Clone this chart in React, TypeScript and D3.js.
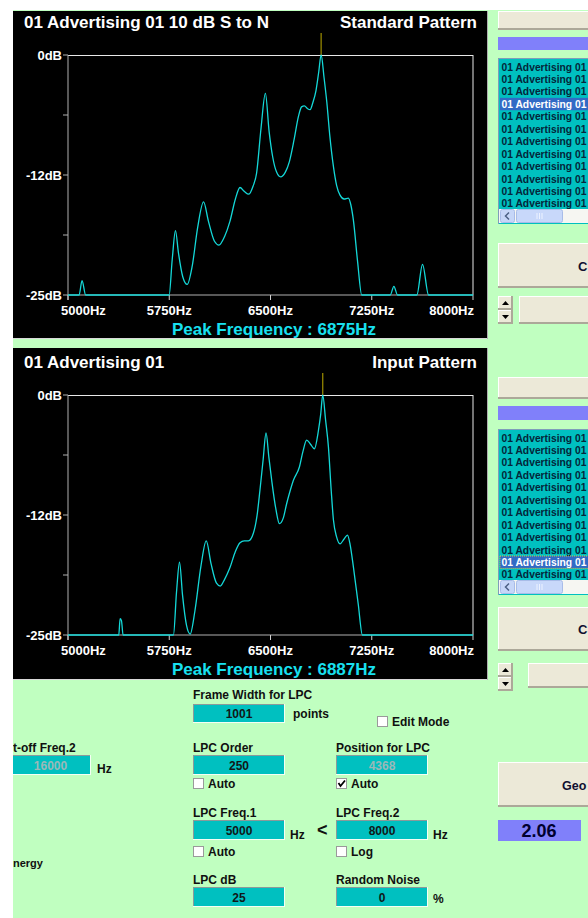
import React from 'react';
import * as d3 from 'd3';

// Frequency axis (Hz) and level axis (dB)
const xTicks = [5000, 5750, 6500, 7250, 8000];
const xTickLabels = ['5000Hz', '5750Hz', '6500Hz', '7250Hz', '8000Hz'];
const yTicks = [0, -6.25, -12.5, -18.75, -25];
const yTickLabels = ['0dB', '', '-12dB', '', '-25dB'];

// LPC spectrum of the standard pattern (10 dB S/N)
const stdFreq = [5000, 5082, 5104, 5131, 5749, 5772, 5796, 5818, 5850, 5883, 5920, 5960, 6004, 6040, 6085, 6118, 6160, 6200, 6240, 6274, 6305, 6340, 6370, 6397, 6430, 6462, 6490, 6516, 6545, 6575, 6610, 6640, 6675, 6707, 6730, 6751, 6775, 6793, 6815, 6837, 6857, 6875, 6897, 6917, 6940, 6966, 6990, 7015, 7045, 7077, 7095, 7114, 7145, 7176, 7387, 7414, 7441, 7584, 7626, 7671, 8000];
const stdDb = [-25, -25, -23.5, -25, -25, -21.3, -18.3, -20.6, -23.1, -23.9, -22.0, -18.0, -15.3, -17.3, -19.4, -19.8, -18.9, -17.3, -15.0, -13.8, -14.2, -14.5, -13.7, -12.3, -7.6, -4.0, -8.0, -10.6, -12.2, -12.7, -12.2, -11.1, -8.8, -6.4, -5.4, -5.3, -5.6, -5.7, -4.9, -3.7, -1.8, 0, -2.4, -4.9, -8.5, -11.6, -13.6, -14.6, -15.0, -14.9, -15.6, -17.2, -21.5, -25, -25, -24.1, -25, -25, -21.8, -25, -25];

// LPC spectrum of the input pattern
const inFreq = [5000, 5376, 5386, 5396, 5408, 5781, 5804, 5826, 5848, 5878, 5905, 5940, 5985, 6024, 6060, 6100, 6128, 6160, 6199, 6240, 6274, 6305, 6336, 6373, 6400, 6422, 6445, 6467, 6488, 6509, 6540, 6566, 6595, 6620, 6645, 6669, 6714, 6740, 6768, 6795, 6825, 6855, 6872, 6887, 6908, 6929, 6950, 6966, 6990, 7015, 7045, 7070, 7090, 7114, 7150, 7181, 8000];
const inDb = [-25, -25, -23.3, -23.5, -25, -25, -20.5, -17.4, -20.8, -24.0, -24.9, -22.5, -17.8, -15.2, -17.6, -19.6, -19.9, -19.2, -18.0, -16.3, -15.4, -15.2, -15.2, -14.4, -12.6, -9.9, -6.8, -3.95, -6.5, -8.9, -11.9, -13.4, -12.8, -11.3, -10.0, -8.9, -7.5, -5.9, -4.7, -5.1, -5.6, -3.7, -2.0, 0, -2.6, -5.4, -10.0, -13.0, -14.8, -15.5, -15.0, -14.6, -15.6, -17.9, -21.8, -25, -25];

const stdPeak = 6875;
const inPeak = 6887;

const listRows = [
  '01 Advertising 01', '01 Advertising 01', '01 Advertising 01', '01 Advertising 01',
  '01 Advertising 01', '01 Advertising 01', '01 Advertising 01', '01 Advertising 01',
  '01 Advertising 01', '01 Advertising 01', '01 Advertising 01', '01 Advertising 01',
];

const FONT = '"Liberation Sans", Arial, Helvetica, sans-serif';
const GREEN = '#c0ffc0';
const TEAL = '#00c0c0';
const PURPLE = '#8080fa';
const FACE = '#ece9d8';

type ChartProps = {
  off: number;
  panelTop: number;
  panelBottom: number;
  title: string;
  kind: string;
  freq: number[];
  db: number[];
  peak: number;
  id: string;
};

function SpectrumChart({ off, panelTop, panelBottom, title, kind, freq, db, peak, id }: ChartProps) {
  const x = d3.scaleLinear().domain([5000, 8000]).range([68, 473]);
  const y = d3.scaleLinear().domain([-25, 0]).range([295 + off, 55 + off]);
  const line = d3
    .line<number>()
    .x((_, i) => x(freq[i]))
    .y((d) => y(d))
    .curve(d3.curveMonotoneX);
  const top = y(0);
  const bottom = y(-25);
  const last = xTicks.length - 1;
  return (
    <g>
      <rect x={13} y={panelTop} width={474} height={panelBottom - panelTop} fill="#000" />
      <line x1={13} x2={487} y1={panelBottom + 0.5} y2={panelBottom + 0.5} stroke="#d8d8d8" />
      <line x1={487.5} x2={487.5} y1={panelTop} y2={panelBottom + 1} stroke="#b0b0b0" />
      <text x={24} y={28 + off} fill="#fff" fontSize={17} fontWeight="bold" fontFamily={FONT}>{title}</text>
      <text x={477} y={28 + off} fill="#fff" fontSize={17} fontWeight="bold" fontFamily={FONT} textAnchor="end">{kind}</text>
      {/* frame */}
      <line x1={68} x2={473} y1={top + 0.5} y2={top + 0.5} stroke="#e8e8e8" />
      <line x1={473} x2={473} y1={top} y2={bottom} stroke="#e8e8e8" />
      <line x1={68} x2={68} y1={top} y2={bottom + 5} stroke="#b0b0b0" />
      <line x1={68} x2={473} y1={bottom} y2={bottom} stroke="#b0b0b0" />
      {yTicks.map((t, i) => (
        <g key={'y' + i}>
          <line x1={63} x2={68} y1={y(t)} y2={y(t)} stroke="#b0b0b0" />
          {yTickLabels[i] && (
            <text x={62} y={y(t) + 4.5} fill="#fff" fontSize={13} fontWeight="bold" fontFamily={FONT} textAnchor="end">
              {yTickLabels[i]}
            </text>
          )}
        </g>
      ))}
      {xTicks.map((t, i) => (
        <g key={'x' + i}>
          <line x1={x(t)} x2={x(t)} y1={bottom} y2={bottom + 5} stroke="#d0d0d0" />
          <text
            x={i === 0 ? x(t) - 7 : i === last ? x(t) + 1 : x(t)}
            y={315 + off}
            fill="#fff"
            fontSize={13}
            fontWeight="bold"
            fontFamily={FONT}
            textAnchor={i === 0 ? 'start' : i === last ? 'end' : 'middle'}
          >
            {xTickLabels[i]}
          </text>
        </g>
      ))}
      <clipPath id={id}>
        <rect x={68} y={top - 1} width={406} height={bottom - top + 2} />
      </clipPath>
      <line x1={x(peak)} x2={x(peak)} y1={33 + off} y2={top} stroke="#a09000" strokeWidth={1.2} />
      <path d={line(db) || ''} fill="none" stroke="#14d8d8" strokeWidth={1.3} clipPath={`url(#${id})`} />
      <text x={274} y={335 + off} fill="#18e0f0" fontSize={17} fontWeight="bold" fontFamily={FONT} textAnchor="middle">
        {`Peak Frequency : ${peak}Hz`}
      </text>
    </g>
  );
}

function Button({ x, y, w, h, label, lx, size = 13 }: { x: number; y: number; w: number; h: number; label?: string; lx?: number; size?: number }) {
  return (
    <g>
      <rect x={x} y={y} width={w} height={h} fill={FACE} />
      <line x1={x} x2={x + w} y1={y + 0.5} y2={y + 0.5} stroke="#fff" />
      <line x1={x + 0.5} x2={x + 0.5} y1={y} y2={y + h} stroke="#fff" />
      <line x1={x} x2={x + w} y1={y + h - 1} y2={y + h - 1} stroke="#aca899" strokeWidth={2} />
      <line x1={x + w - 1} x2={x + w - 1} y1={y} y2={y + h} stroke="#aca899" strokeWidth={2} />
      {label && (
        <text x={lx} y={y + h / 2 + 5} fontSize={size} fontWeight="bold" fontFamily={FONT} fill="#101030">{label}</text>
      )}
    </g>
  );
}

function Spin({ x, y }: { x: number; y: number }) {
  return (
    <g>
      <Button x={x} y={y} w={15} h={14} />
      <Button x={x} y={y + 14} w={15} h={14} />
      <path d={`M${x + 4},${y + 9} L${x + 11},${y + 9} L${x + 7.5},${y + 5} Z`} fill="#000" />
      <path d={`M${x + 4},${y + 19} L${x + 11},${y + 19} L${x + 7.5},${y + 23} Z`} fill="#000" />
    </g>
  );
}

function ListBox({ off, selected, focus, id }: { off: number; selected: number; focus?: boolean; id: string }) {
  const rowY = d3.scaleLinear().domain([0, 1]).range([60.5 + off, 72.95 + off]);
  return (
    <g>
      <rect x={498} y={58 + off} width={100} height={166} fill={TEAL} />
      <line x1={498.5} x2={498.5} y1={58 + off} y2={224 + off} stroke="#7f9db9" />
      <line x1={498} x2={598} y1={58.5 + off} y2={58.5 + off} stroke="#7f9db9" />
      <clipPath id={id}>
        <rect x={499} y={59 + off} width={100} height={150} />
      </clipPath>
      <g clipPath={`url(#${id})`}>
        {listRows.map((r, i) => (
          <g key={i}>
            {i === selected && (
              <rect x={500} y={rowY(i)} width={100} height={12.4} fill="#316ac5" stroke={focus ? '#e0c040' : 'none'} strokeDasharray="1,1" />
            )}
            <text x={501.5} y={rowY(i) + 10} fontSize={10.3} fontWeight="bold" fontFamily={FONT} fill={i === selected ? '#fff' : '#04263a'}>
              {r}
            </text>
          </g>
        ))}
      </g>
      {/* horizontal scrollbar */}
      <rect x={499} y={209 + off} width={100} height={14} fill="#f6f6f2" />
      <rect x={500.5} y={209.5 + off} width={14} height={13} rx={2} fill="#c6d6f8" stroke="#a8bce8" />
      <path d={`M${509},${212.5 + off} L${505.5},${216 + off} L${509},${219.5 + off}`} fill="none" stroke="#4d6185" strokeWidth={1.5} />
      <rect x={516.5} y={209.5 + off} width={46} height={13} rx={2} fill="#c8d8fa" stroke="#a8bce8" />
      {[537, 539.5, 542].map((gx) => (
        <line key={gx} x1={gx} x2={gx} y1={213 + off} y2={219 + off} stroke="#ecf2ff" />
      ))}
    </g>
  );
}

function Field({ x, y, w, h, value, disabled }: { x: number; y: number; w: number; h: number; value: string; disabled?: boolean }) {
  return (
    <g>
      <rect x={x} y={y} width={w} height={h} fill={TEAL} />
      <line x1={x} x2={x + w} y1={y + 0.5} y2={y + 0.5} stroke="#8a9a9a" />
      <line x1={x + 0.5} x2={x + 0.5} y1={y} y2={y + h} stroke="#8a9a9a" />
      <line x1={x} x2={x + w} y1={y + h - 0.5} y2={y + h - 0.5} stroke="#f4fff4" />
      <line x1={x + w - 0.5} x2={x + w - 0.5} y1={y} y2={y + h} stroke="#f4fff4" />
      <text x={x + w / 2} y={y + h / 2 + 4.5} textAnchor="middle" fontSize={12} fontWeight="bold" fontFamily={FONT} fill={disabled ? '#9ab8b8' : '#101818'}>
        {value}
      </text>
    </g>
  );
}

function Check({ x, y, label, checked }: { x: number; y: number; label: string; checked?: boolean }) {
  return (
    <g>
      <rect x={x + 0.5} y={y + 0.5} width={10} height={10} fill="#fff" stroke="#9a9a9a" />
      {checked && <path d={`M${x + 2.5},${y + 5} L${x + 4.5},${y + 8} L${x + 9},${y + 2.5}`} fill="none" stroke="#000" strokeWidth={1.8} />}
      <text x={x + 15} y={y + 10} fontSize={12} fontWeight="bold" fontFamily={FONT} fill="#101010">{label}</text>
    </g>
  );
}

function Label({ x, y, text, size = 12 }: { x: number; y: number; text: string; size?: number }) {
  return (
    <text x={x} y={y} fontSize={size} fontWeight="bold" fontFamily={FONT} fill="#101010">{text}</text>
  );
}

export default function App() {
  return (
    <div style={{ position: 'absolute', left: 0, top: 0 }}>
      <svg width={588} height={918} style={{ display: 'block' }}>
        <rect x={0} y={0} width={588} height={918} fill="#fff" />
        <rect x={13} y={10} width={575} height={908} fill={GREEN} />

        <SpectrumChart off={0} panelTop={11} panelBottom={338} title="01 Advertising 01 10 dB S to N" kind="Standard Pattern" freq={stdFreq} db={stdDb} peak={stdPeak} id="clipStd" />
        <SpectrumChart off={340} panelTop={348} panelBottom={679} title="01 Advertising 01" kind="Input Pattern" freq={inFreq} db={inDb} peak={inPeak} id="clipIn" />

        {/* right column, upper */}
        <Button x={498} y={11} w={100} h={19} />
        <rect x={498} y={37} width={100} height={13} fill={PURPLE} />
        <ListBox off={0} selected={3} id="lb1" />
        <Button x={498} y={243} w={100} h={45} label="C" lx={578} />
        <Spin x={498} y={296} />
        <Button x={519} y={296} w={80} h={28} />

        {/* right column, lower */}
        <Button x={498} y={377} w={100} h={22} />
        <rect x={498} y={406} width={100} height={14} fill={PURPLE} />
        <ListBox off={371} selected={10} focus id="lb2" />
        <Button x={498} y={607} w={100} h={44} label="C" lx={578} />
        <Spin x={498} y={663} />
        <Button x={528} y={663} w={70} h={25} />

        <Button x={498} y={762} w={100} h={45} label="Geo" lx={562} size={12.5} />
        <rect x={498} y={820} width={83} height={21} fill={PURPLE} />
        <text x={539} y={837} textAnchor="middle" fontSize={18} fontWeight="bold" fontFamily={FONT} fill="#000030">2.06</text>

        {/* LPC settings */}
        <Label x={193} y={699} text="Frame Width for LPC" />
        <Field x={193} y={704} w={92} h={19} value="1001" />
        <Label x={293} y={718} text="points" />
        <Check x={377} y={716} label="Edit Mode" />

        <Label x={13} y={752} text="t-off Freq.2" />
        <Field x={10} y={755} w={81} h={20} value="16000" disabled />
        <Label x={97} y={773} text="Hz" />

        <Label x={193} y={752} text="LPC Order" />
        <Field x={193} y={755} w={92} h={20} value="250" />
        <Check x={193} y={778} label="Auto" />

        <Label x={336} y={752} text="Position for LPC" />
        <Field x={336} y={755} w={92} h={20} value="4368" disabled />
        <Check x={336} y={778} label="Auto" checked />

        <Label x={193} y={817} text="LPC Freq.1" />
        <Field x={193} y={820} w={92} h={20} value="5000" />
        <Label x={290} y={839} text="Hz" />
        <Check x={193} y={846} label="Auto" />

        <text x={317} y={836} fontSize={18} fontWeight="bold" fontFamily={FONT} fill="#101010">{'<'}</text>

        <Label x={336} y={817} text="LPC Freq.2" />
        <Field x={336} y={820} w={92} h={20} value="8000" />
        <Label x={433} y={839} text="Hz" />
        <Check x={336} y={846} label="Log" />

        <Label x={13} y={867} text="nergy" size={11} />

        <Label x={193} y={884} text="LPC dB" />
        <Field x={193} y={887} w={92} h={20} value="25" />

        <Label x={336} y={884} text="Random Noise" />
        <Field x={336} y={887} w={92} h={20} value="0" />
        <Label x={433} y={903} text="%" />

        <rect x={0} y={0} width={13} height={918} fill="#fff" />
      </svg>
    </div>
  );
}
